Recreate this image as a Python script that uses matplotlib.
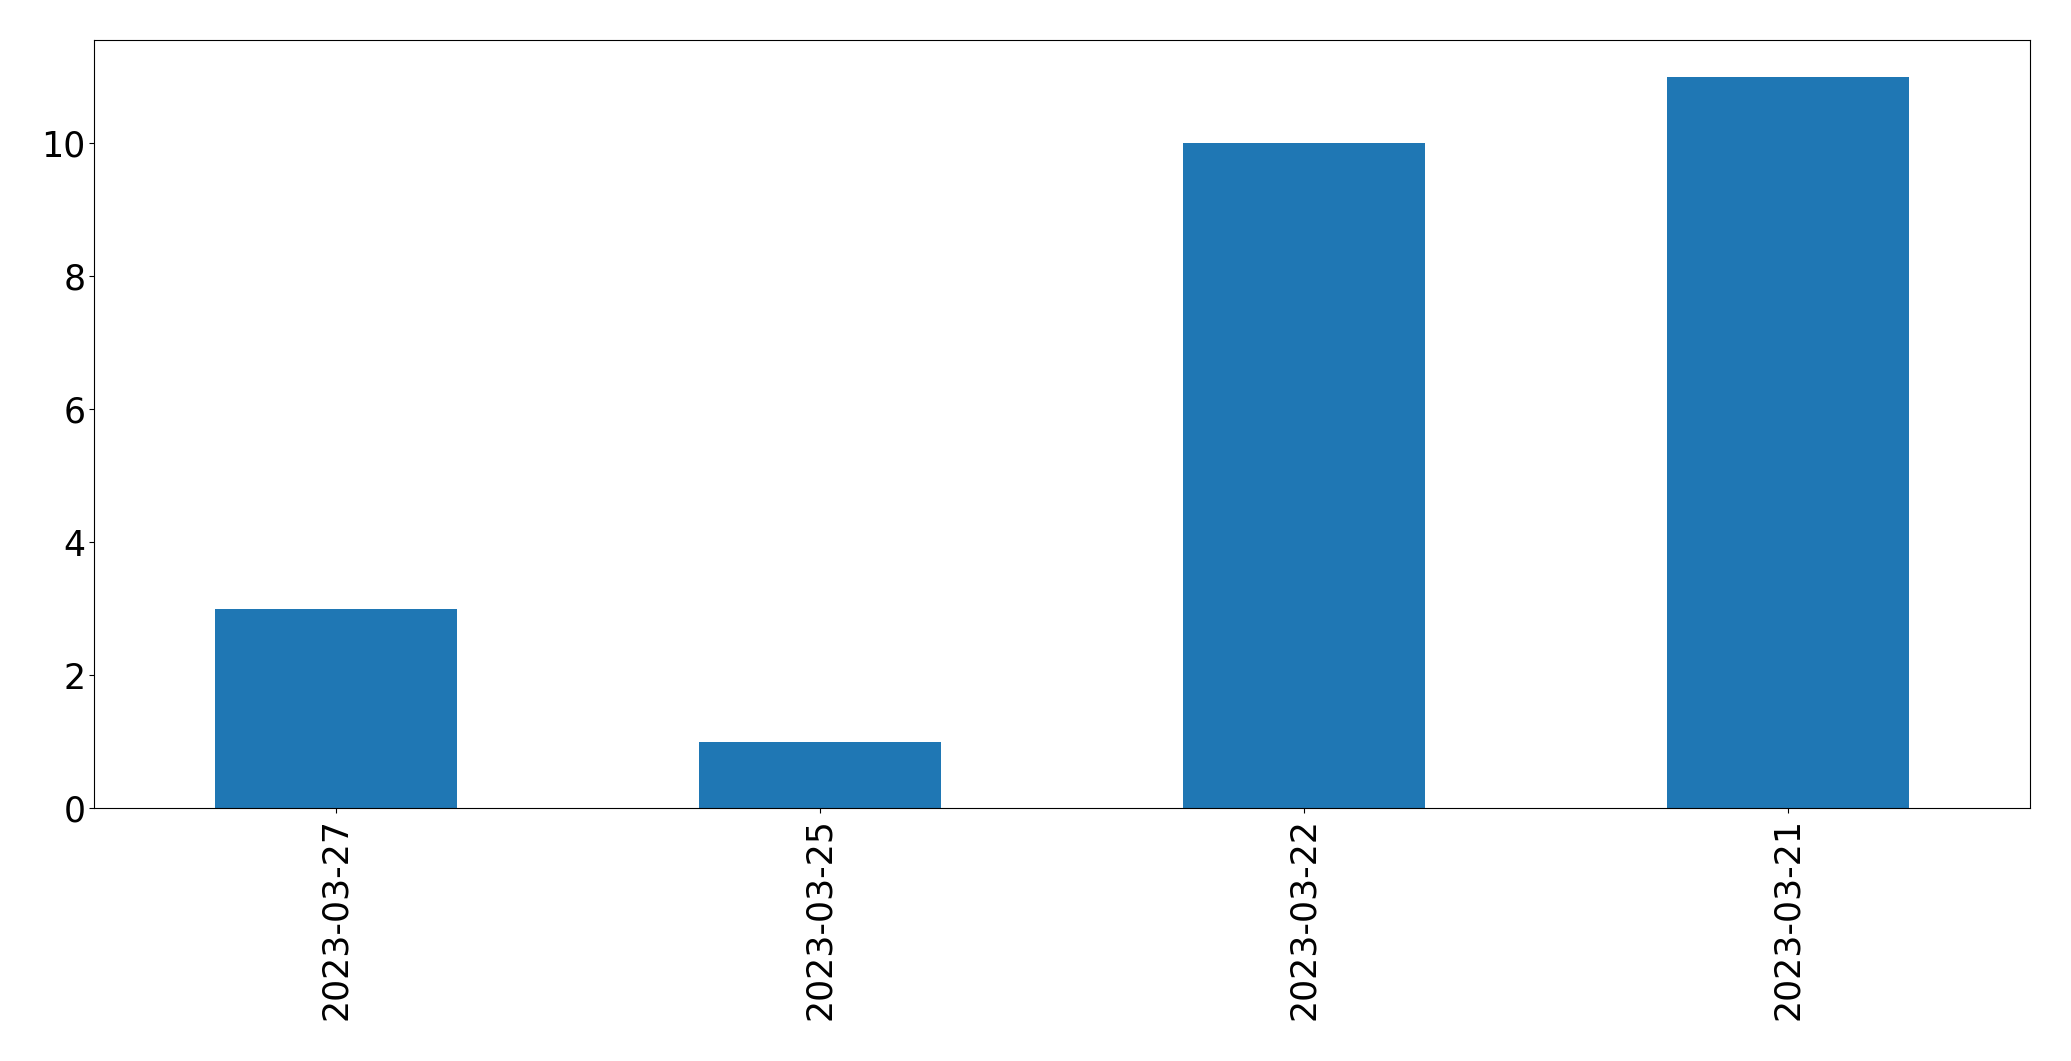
import matplotlib
matplotlib.use("Agg")
import matplotlib.pyplot as plt
import pandas as pd

dates = ["2023-03-27", "2023-03-25", "2023-03-22", "2023-03-21"]
counts = [3, 1, 10, 11]

fig = plt.figure(figsize=(20.71, 10.61), dpi=100)
ax = fig.add_axes([94/2071, 1 - 808/1061, (2030-94)/2071, (808-40)/1061])
s = pd.Series(counts, index=dates)
s.plot(kind="bar", ax=ax, color="#1f77b4")
ax.tick_params(axis="both", labelsize=25)
ax.tick_params(axis="y", pad=2.5)
fig.savefig("out.png", dpi=100)
